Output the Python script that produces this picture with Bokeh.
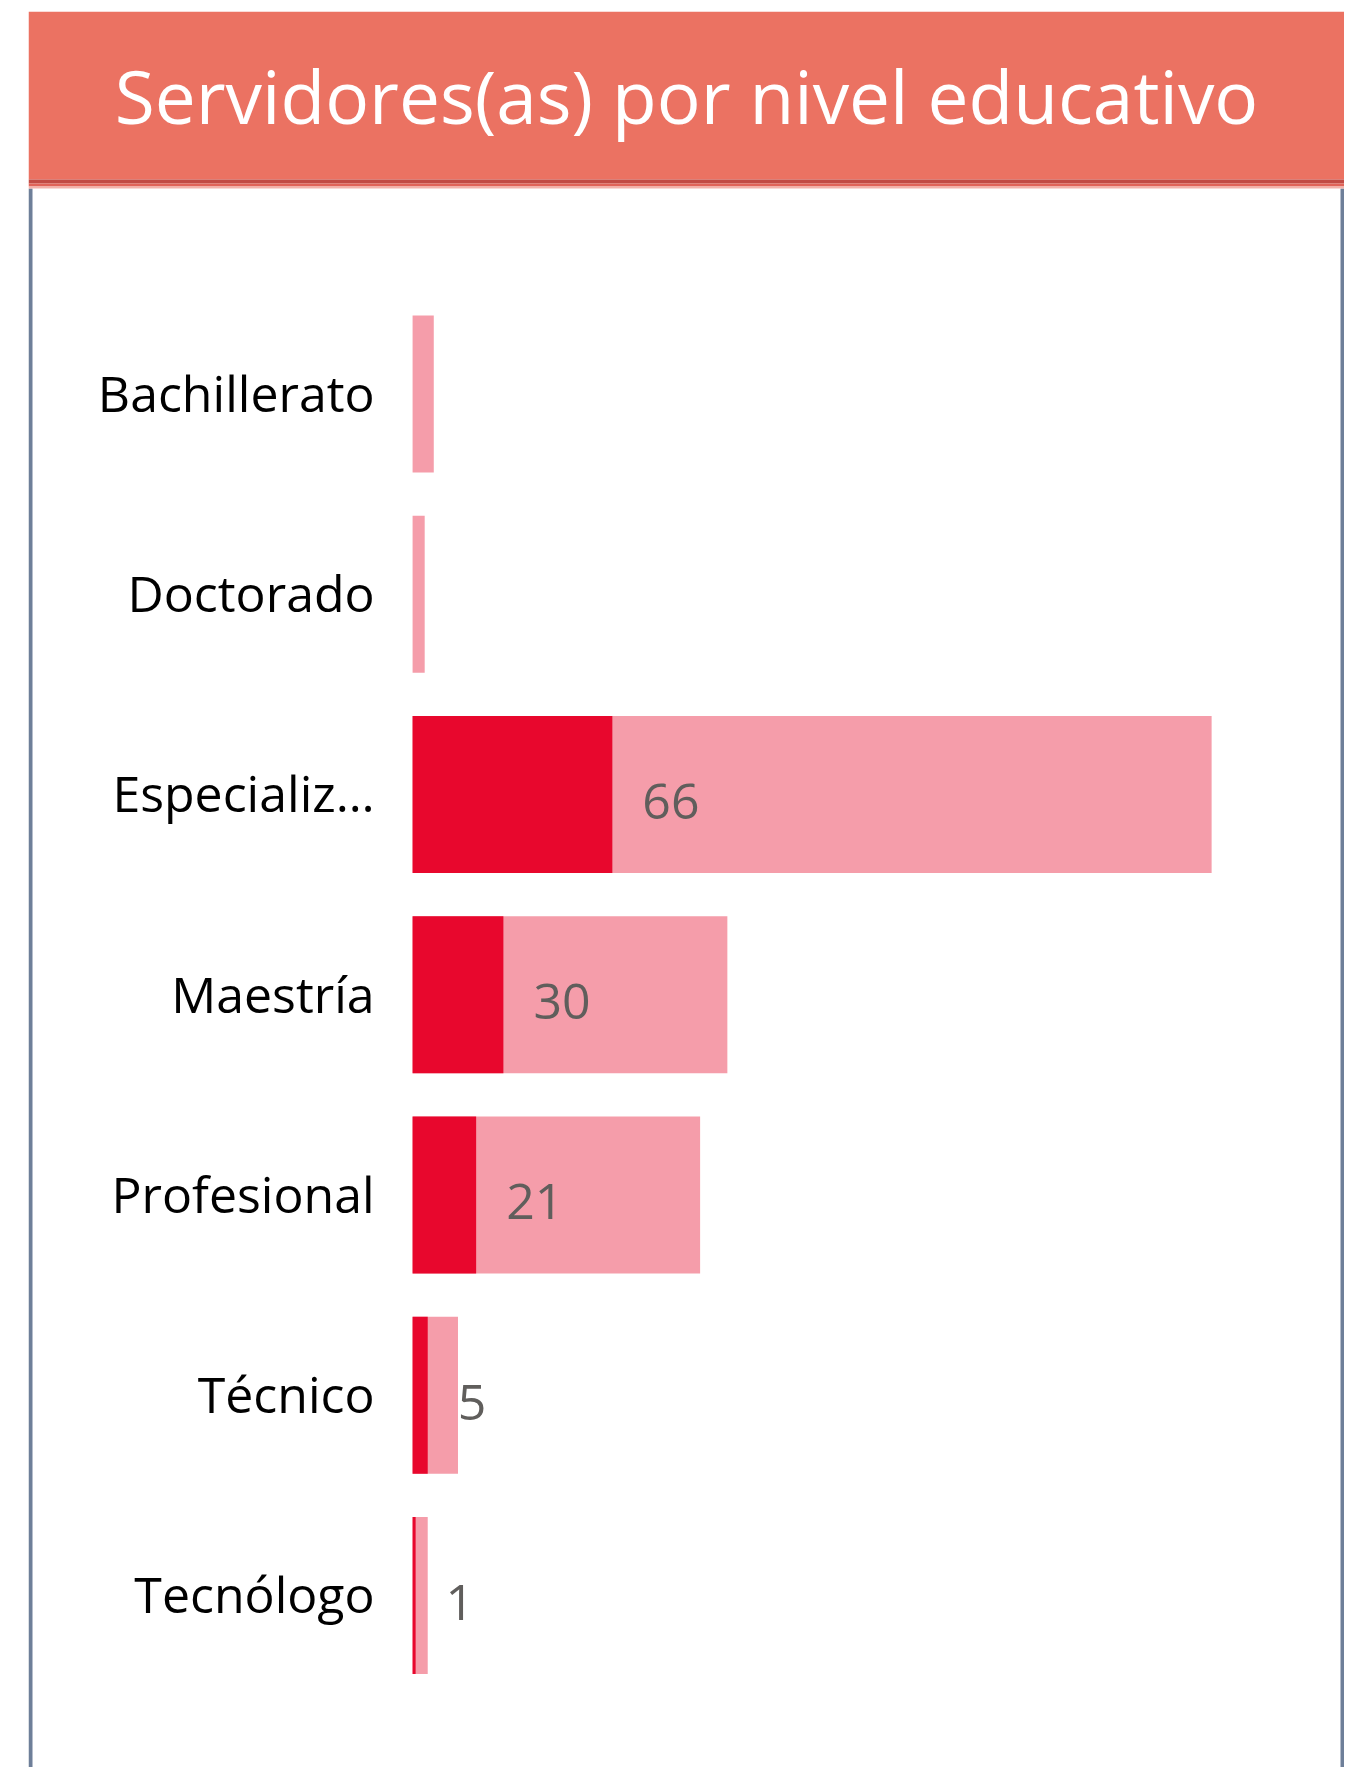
from bokeh.plotting import figure
from bokeh.models import ColumnDataSource, Range1d, BoxAnnotation, Label
from bokeh.core.properties import value
from bokeh.embed import file_html
from bokeh.resources import INLINE

# ---- data ----
categories = ["Bachillerato", "Doctorado", "Especializ…", "Maestría",
              "Profesional", "Técnico", "Tecnólogo"]
total_values = [7, 4, 264, 104, 95, 15, 5]
servidores = [0, 0, 66, 30, 21, 5, 1]
title_text = "Servidores(as) por nivel educativo"

# ---- layout constants ----
FONT = "Open Sans"
W, H = 1344, 1767
MB_L, MB_T = 28, 11
FW, FH = W - MB_L, H - MB_T


def fy(page_y):
    # page y (from top) -> frame-relative screen y (from frame bottom)
    return H - page_y


n = len(categories)
ypos = [n - 1 - i for i in range(n)]

p = figure(width=W, height=H, output_backend="svg", toolbar_location=None,
           x_range=Range1d(-126.9, 307.9), y_range=Range1d(-0.859, 7.910),
           x_axis_location=None, y_axis_location=None,
           min_border_left=MB_L, min_border_right=0,
           min_border_top=MB_T, min_border_bottom=0,
           outline_line_color=None, background_fill_color="white",
           border_fill_color="white")
p.xgrid.grid_line_color = None
p.ygrid.grid_line_color = None

src = ColumnDataSource(dict(y=ypos, cat=categories, total=total_values, serv=servidores))
p.hbar(y="y", left=0, right="total", height=0.784, source=src,
       fill_color="#F59DAA", line_color=None)
p.hbar(y="y", left=0, right="serv", height=0.784, source=src,
       fill_color="#E8072D", line_color=None)

# category labels
p.text(x=0, y="y", text="cat", source=src, x_offset=-38, y_offset=-1,
       text_align="right", text_baseline="alphabetic",
       text_font=value(FONT), text_font_size="50px", text_color="#000000")

# value labels
idx = [i for i in range(n) if servidores[i] > 0]
lsrc = ColumnDataSource(dict(x=[servidores[i] for i in idx],
                             y=[ypos[i] for i in idx],
                             t=[str(servidores[i]) for i in idx]))
p.text(x="x", y="y", text="t", source=lsrc, x_offset=30, y_offset=7,
       text_align="left", text_baseline="alphabetic",
       text_font=value(FONT), text_font_size="50px", text_color="#605E5C")


def box(l, r, b, t, color):
    p.add_layout(BoxAnnotation(left=l, right=r, bottom=b, top=t,
                               left_units="screen", right_units="screen",
                               bottom_units="screen", top_units="screen",
                               fill_color=color, fill_alpha=1.0, line_color=None))


# side borders
box(0, 4, 0, fy(188), "#6E7F99")
box(FW - 4, FW, 0, fy(188), "#6E7F99")
# title bar + bottom stripes
box(0, FW, fy(179), FH, "#EB7262")
box(0, FW, fy(183), fy(179), "#C24B44")
box(0, FW, fy(186), fy(183), "#E06459")
box(0, FW, fy(188), fy(186), "#F4B3AB")

p.add_layout(Label(x=FW / 2, y=fy(95), x_units="screen", y_units="screen",
                   text=title_text, text_align="center", text_baseline="alphabetic",
                   text_font=FONT, text_font_size="73px", text_color="white"))

open("out.html", "w").write(file_html(p, INLINE))
